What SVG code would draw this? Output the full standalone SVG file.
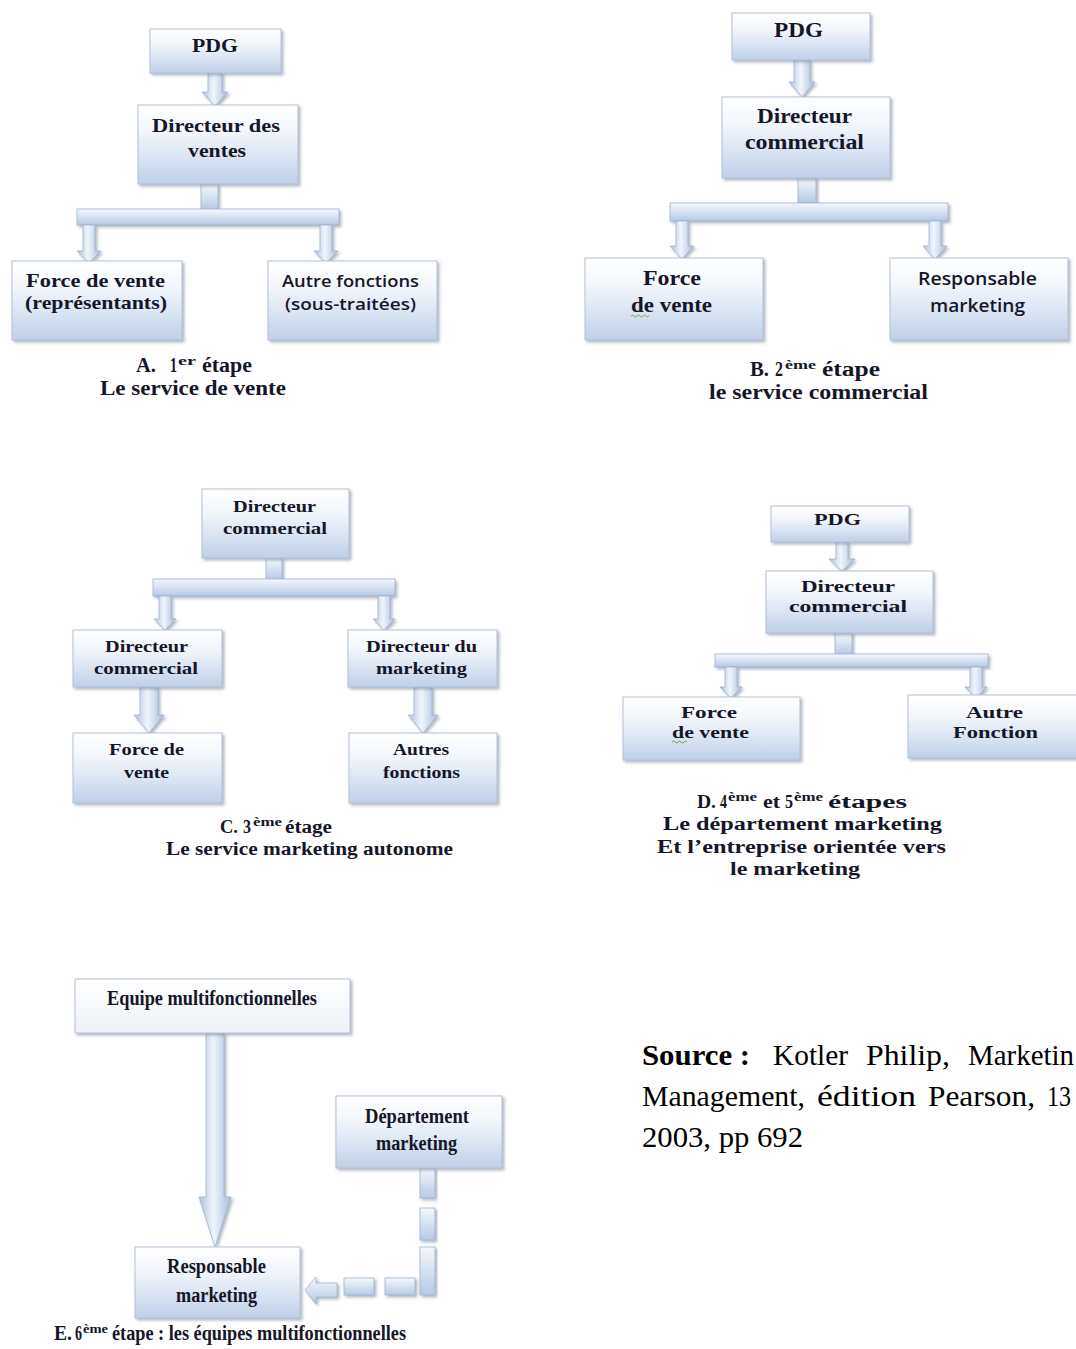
<svg xmlns="http://www.w3.org/2000/svg" width="1076" height="1349" viewBox="0 0 1076 1349">
  <defs>
    <linearGradient id="boxFill" x1="0" y1="0" x2="0" y2="1">
      <stop offset="0" stop-color="#ffffff"/>
      <stop offset="0.35" stop-color="#f2f6fb"/>
      <stop offset="1" stop-color="#c0d0e8"/>
    </linearGradient>
    <linearGradient id="boxFillPale" x1="0" y1="0" x2="0" y2="1">
      <stop offset="0" stop-color="#ffffff"/>
      <stop offset="1" stop-color="#eef2f8"/>
    </linearGradient>
    <linearGradient id="shaftFill" x1="0" y1="0" x2="1" y2="0">
      <stop offset="0" stop-color="#adc1de"/>
      <stop offset="0.45" stop-color="#f1f5fb"/>
      <stop offset="1" stop-color="#a8bcda"/>
    </linearGradient>
    <linearGradient id="barFill" x1="0" y1="0" x2="0" y2="1">
      <stop offset="0" stop-color="#f6f8fc"/>
      <stop offset="1" stop-color="#b6c9e4"/>
    </linearGradient>
    <filter id="shadow" x="-10%" y="-10%" width="130%" height="140%">
      <feDropShadow dx="2" dy="2" stdDeviation="1.4" flood-color="#6f7d93" flood-opacity="0.55"/>
    </filter>
  </defs>
  <style>
    .box { fill: url(#boxFill); stroke: #b3c1d6; stroke-width: 1; filter: url(#shadow); }
    .pale { fill: url(#boxFillPale); }
    .shaft { fill: url(#shaftFill); stroke: #9fb2cf; stroke-width: 0.8; filter: url(#shadow); }
    .bar { fill: url(#barFill); stroke: #9fb2cf; stroke-width: 0.8; filter: url(#shadow); }
    text { fill: #161629; }
    .s { font-family: "Liberation Serif", "Times New Roman", serif; font-weight: bold; }
    .n { font-family: "Open Sans", "Liberation Sans", Arial, sans-serif; font-weight: 600; }
    .a { font-size: 19px; }
    .b { font-size: 20px; }
    .c { font-size: 17px; }
    .d { font-size: 17px; }
    .e { font-size: 20px; }
    .na { font-size: 17px; }
    .nb { font-size: 18px; }
    .cap { font-size: 20px; }
    .capc { font-size: 18px; }
    .capd { font-size: 18px; }
    .sup { font-size: 12px; }
    .src { font-family: "Liberation Serif", "Times New Roman", serif; font-size: 30px; fill: #000; }
  </style>

  <rect width="1076" height="1349" fill="#ffffff"/>

  <!-- connectors: block arrows, stubs and distribution bars -->
  <g id="connectors">
    <!-- A -->
    <path class="shaft" d="M208,73 L222,73 L222,92 L228,92 L215,106 L202,92 L208,92 Z"/>
    <rect class="bar" x="201" y="184" width="17" height="26"/>
    <rect class="bar" x="77" y="209" width="262" height="16"/>
    <path class="shaft" d="M83,225 L95,225 L95,251 L101,251 L89,263 L77,251 L83,251 Z"/>
    <path class="shaft" d="M320,225 L332,225 L332,251 L338,251 L326,263 L314,251 L320,251 Z"/>
    <!-- B -->
    <path class="shaft" d="M794,60 L810,60 L810,82 L815,82 L802,97 L789,82 L794,82 Z"/>
    <rect class="bar" x="798" y="178" width="18" height="25"/>
    <rect class="bar" x="670" y="203" width="278" height="18"/>
    <path class="shaft" d="M676,221 L688,221 L688,246 L694,246 L682,259 L670,246 L676,246 Z"/>
    <path class="shaft" d="M929,221 L941,221 L941,246 L947,246 L935,259 L923,246 L929,246 Z"/>
    <!-- C -->
    <rect class="bar" x="266" y="558" width="16" height="22"/>
    <rect class="bar" x="153" y="579" width="242" height="17"/>
    <path class="shaft" d="M159,596 L171,596 L171,619 L176,619 L165,630 L154,619 L159,619 Z"/>
    <path class="shaft" d="M378,596 L390,596 L390,619 L395,619 L384,630 L373,619 L378,619 Z"/>
    <path class="shaft" d="M140,687 L158,687 L158,715 L164,715 L149,733 L134,715 L140,715 Z"/>
    <path class="shaft" d="M414,687 L432,687 L432,715 L438,715 L423,733 L408,715 L414,715 Z"/>
    <!-- D -->
    <path class="shaft" d="M836,542 L848,542 L848,559 L855,559 L842,571 L829,559 L836,559 Z"/>
    <rect class="bar" x="835" y="633" width="17" height="22"/>
    <rect class="bar" x="715" y="654" width="273" height="13"/>
    <path class="shaft" d="M725,667 L737,667 L737,687 L742,687 L731,698 L720,687 L725,687 Z"/>
    <path class="shaft" d="M970,667 L982,667 L982,687 L987,687 L976,698 L965,687 L970,687 Z"/>
    <!-- E -->
    <path class="shaft" d="M206,1033 L224,1033 L224,1197 L231,1197 L215,1247 L199,1197 L206,1197 Z"/>
    <rect class="bar" x="420" y="1168" width="15" height="30"/>
    <rect class="bar" x="420" y="1208" width="15" height="32"/>
    <rect class="bar" x="420" y="1247" width="15" height="48"/>
    <rect class="bar" x="385" y="1278" width="30" height="17"/>
    <rect class="bar" x="344" y="1278" width="30" height="17"/>
    <path class="bar" d="M337,1283 L337,1297 L316,1297 L316,1304 L305,1290 L316,1277 L316,1283 Z"/>
  </g>

  <!-- A. 1er étape -->
  <g id="a-pdg">
    <rect class="box" x="150" y="29" width="131" height="44"/>
    <text class="s a" x="192" y="52" textLength="46" lengthAdjust="spacingAndGlyphs">PDG</text>
  </g>
  <g id="a-directeur-ventes">
    <rect class="box" x="138" y="105" width="160" height="79"/>
    <text class="s a" x="152" y="132" textLength="128" lengthAdjust="spacingAndGlyphs">Directeur des</text>
    <text class="s a" x="188" y="157" textLength="58" lengthAdjust="spacingAndGlyphs">ventes</text>
  </g>
  <g id="a-force-vente">
    <rect class="box" x="12" y="261" width="170" height="79"/>
    <text class="s a" x="26" y="287" textLength="139" lengthAdjust="spacingAndGlyphs">Force de vente</text>
    <text class="s a" x="25" y="309" textLength="142" lengthAdjust="spacingAndGlyphs">(représentants)</text>
  </g>
  <g id="a-autres">
    <rect class="box" x="268" y="261" width="169" height="79"/>
    <text class="n na" x="282" y="287" textLength="137" lengthAdjust="spacingAndGlyphs">Autre fonctions</text>
    <text class="n na" x="285" y="310" textLength="131" lengthAdjust="spacingAndGlyphs">(sous-traitées)</text>
  </g>
  <g id="a-caption">
    <text class="s cap" x="136" y="372" textLength="20" lengthAdjust="spacingAndGlyphs">A.</text>
    <text class="s cap" x="170" y="372" textLength="7" lengthAdjust="spacingAndGlyphs">1</text>
    <text class="s sup" x="178" y="365" textLength="18" lengthAdjust="spacingAndGlyphs">er</text>
    <text class="s cap" x="202" y="372" textLength="50" lengthAdjust="spacingAndGlyphs">étape</text>
    <text class="s cap" x="100" y="395" textLength="186" lengthAdjust="spacingAndGlyphs">Le service de vente</text>
  </g>

  <!-- B. 2ème étape -->
  <g id="b-pdg">
    <rect class="box" x="732" y="13" width="138" height="47"/>
    <text class="s b" x="774" y="37" textLength="49" lengthAdjust="spacingAndGlyphs">PDG</text>
  </g>
  <g id="b-directeur-commercial">
    <rect class="box" x="722" y="97" width="168" height="81"/>
    <text class="s b" x="757" y="123" textLength="95" lengthAdjust="spacingAndGlyphs">Directeur</text>
    <text class="s b" x="745" y="149" textLength="119" lengthAdjust="spacingAndGlyphs">commercial</text>
  </g>
  <g id="b-force-vente">
    <rect class="box" x="585" y="258" width="178" height="82"/>
    <text class="s b" x="643" y="285" textLength="58" lengthAdjust="spacingAndGlyphs">Force</text>
    <text class="s b" x="631" y="312" textLength="81" lengthAdjust="spacingAndGlyphs">de vente</text>
    <path d="M631,316 q1.5,-2 3,0 t3,0 t3,0 t3,0 t3,0 t3,0" fill="none" stroke="#6aa84f" stroke-width="1"/>
  </g>
  <g id="b-responsable-marketing">
    <rect class="box" x="890" y="258" width="178" height="82"/>
    <text class="n nb" x="918" y="285" textLength="119" lengthAdjust="spacingAndGlyphs">Responsable</text>
    <text class="n nb" x="930" y="312" textLength="95" lengthAdjust="spacingAndGlyphs">marketing</text>
  </g>
  <g id="b-caption">
    <text class="s cap" x="750" y="376" textLength="19" lengthAdjust="spacingAndGlyphs">B.</text>
    <text class="s cap" x="775" y="376" textLength="8" lengthAdjust="spacingAndGlyphs">2</text>
    <text class="s sup" x="785" y="369" textLength="31" lengthAdjust="spacingAndGlyphs">ème</text>
    <text class="s cap" x="822" y="376" textLength="58" lengthAdjust="spacingAndGlyphs">étape</text>
    <text class="s cap" x="709" y="399" textLength="219" lengthAdjust="spacingAndGlyphs">le service commercial</text>
  </g>

  <!-- C. 3ème étage -->
  <g id="c-directeur-commercial">
    <rect class="box" x="202" y="489" width="147" height="69"/>
    <text class="s c" x="233" y="512" textLength="83" lengthAdjust="spacingAndGlyphs">Directeur</text>
    <text class="s c" x="223" y="534" textLength="104" lengthAdjust="spacingAndGlyphs">commercial</text>
  </g>
  <g id="c-directeur-commercial-2">
    <rect class="box" x="73" y="630" width="149" height="57"/>
    <text class="s c" x="105" y="652" textLength="83" lengthAdjust="spacingAndGlyphs">Directeur</text>
    <text class="s c" x="94" y="674" textLength="104" lengthAdjust="spacingAndGlyphs">commercial</text>
  </g>
  <g id="c-directeur-marketing">
    <rect class="box" x="348" y="630" width="149" height="57"/>
    <text class="s c" x="366" y="652" textLength="111" lengthAdjust="spacingAndGlyphs">Directeur du</text>
    <text class="s c" x="376" y="674" textLength="91" lengthAdjust="spacingAndGlyphs">marketing</text>
  </g>
  <g id="c-force-vente">
    <rect class="box" x="73" y="733" width="149" height="70"/>
    <text class="s c" x="109" y="755" textLength="75" lengthAdjust="spacingAndGlyphs">Force de</text>
    <text class="s c" x="124" y="778" textLength="45" lengthAdjust="spacingAndGlyphs">vente</text>
  </g>
  <g id="c-autres-fonctions">
    <rect class="box" x="349" y="733" width="148" height="70"/>
    <text class="s c" x="393" y="755" textLength="56" lengthAdjust="spacingAndGlyphs">Autres</text>
    <text class="s c" x="383" y="778" textLength="77" lengthAdjust="spacingAndGlyphs">fonctions</text>
  </g>
  <g id="c-caption">
    <text class="s capc" x="220" y="833" textLength="18" lengthAdjust="spacingAndGlyphs">C.</text>
    <text class="s capc" x="243" y="833" textLength="8" lengthAdjust="spacingAndGlyphs">3</text>
    <text class="s sup" x="253" y="826" textLength="29" lengthAdjust="spacingAndGlyphs">ème</text>
    <text class="s capc" x="285" y="833" textLength="47" lengthAdjust="spacingAndGlyphs">étage</text>
    <text class="s capc" x="166" y="855" textLength="287" lengthAdjust="spacingAndGlyphs">Le service marketing autonome</text>
  </g>

  <!-- D. 4ème et 5ème étapes -->
  <g id="d-pdg">
    <rect class="box" x="771" y="506" width="138" height="36"/>
    <text class="s d" x="814" y="525" textLength="47" lengthAdjust="spacingAndGlyphs">PDG</text>
  </g>
  <g id="d-directeur-commercial">
    <rect class="box" x="766" y="571" width="167" height="62"/>
    <text class="s d" x="801" y="592" textLength="94" lengthAdjust="spacingAndGlyphs">Directeur</text>
    <text class="s d" x="789" y="612" textLength="118" lengthAdjust="spacingAndGlyphs">commercial</text>
  </g>
  <g id="d-force-vente">
    <rect class="box" x="623" y="697" width="177" height="63"/>
    <text class="s d" x="681" y="718" textLength="56" lengthAdjust="spacingAndGlyphs">Force</text>
    <text class="s d" x="672" y="738" textLength="77" lengthAdjust="spacingAndGlyphs">de vente</text>
    <path d="M672,742 q1.5,-2 3,0 t3,0 t3,0 t3,0 t3,0" fill="none" stroke="#6aa84f" stroke-width="1"/>
  </g>
  <g id="d-autre-fonction">
    <rect class="box" x="908" y="695" width="175" height="63"/>
    <text class="s d" x="966" y="718" textLength="57" lengthAdjust="spacingAndGlyphs">Autre</text>
    <text class="s d" x="953" y="738" textLength="85" lengthAdjust="spacingAndGlyphs">Fonction</text>
  </g>
  <g id="d-caption">
    <text class="s capd" x="697" y="808" textLength="19" lengthAdjust="spacingAndGlyphs">D.</text>
    <text class="s capd" x="720" y="808" textLength="7" lengthAdjust="spacingAndGlyphs">4</text>
    <text class="s sup" x="728" y="801" textLength="29" lengthAdjust="spacingAndGlyphs">ème</text>
    <text class="s capd" x="763" y="808" textLength="17" lengthAdjust="spacingAndGlyphs">et</text>
    <text class="s capd" x="785" y="808" textLength="8" lengthAdjust="spacingAndGlyphs">5</text>
    <text class="s sup" x="794" y="801" textLength="29" lengthAdjust="spacingAndGlyphs">ème</text>
    <text class="s capd" x="828" y="808" textLength="79" lengthAdjust="spacingAndGlyphs">étapes</text>
    <text class="s capd" x="663" y="830" textLength="279" lengthAdjust="spacingAndGlyphs">Le département marketing</text>
    <text class="s capd" x="657" y="853" textLength="289" lengthAdjust="spacingAndGlyphs">Et l’entreprise orientée vers</text>
    <text class="s capd" x="730" y="875" textLength="130" lengthAdjust="spacingAndGlyphs">le marketing</text>
  </g>

  <!-- E. 6ème étape -->
  <g id="e-equipe">
    <rect class="box pale" x="75" y="979" width="275" height="54"/>
    <text class="s e" x="107" y="1005" textLength="210" lengthAdjust="spacingAndGlyphs">Equipe multifonctionnelles</text>
  </g>
  <g id="e-departement-marketing">
    <rect class="box" x="336" y="1096" width="166" height="72"/>
    <text class="s e" x="365" y="1123" textLength="104" lengthAdjust="spacingAndGlyphs">Département</text>
    <text class="s e" x="376" y="1150" textLength="81" lengthAdjust="spacingAndGlyphs">marketing</text>
  </g>
  <g id="e-responsable-marketing">
    <rect class="box" x="135" y="1247" width="165" height="71"/>
    <text class="s e" x="167" y="1273" textLength="99" lengthAdjust="spacingAndGlyphs">Responsable</text>
    <text class="s e" x="176" y="1302" textLength="81" lengthAdjust="spacingAndGlyphs">marketing</text>
  </g>
  <g id="e-caption">
    <text class="s e" x="54" y="1340" textLength="18" lengthAdjust="spacingAndGlyphs">E.</text>
    <text class="s e" x="75" y="1340" textLength="7" lengthAdjust="spacingAndGlyphs">6</text>
    <text class="s sup" x="83" y="1333" textLength="25" lengthAdjust="spacingAndGlyphs">ème</text>
    <text class="s e" x="112" y="1340" textLength="294" lengthAdjust="spacingAndGlyphs">étape : les équipes multifonctionnelles</text>
  </g>

  <!-- bibliographic source -->
  <g id="source">
    <text class="src" x="642" y="1065" font-weight="bold" textLength="108" lengthAdjust="spacingAndGlyphs">Source :</text>
    <text class="src" x="773" y="1065" textLength="75" lengthAdjust="spacingAndGlyphs">Kotler</text>
    <text class="src" x="866" y="1065" textLength="84" lengthAdjust="spacingAndGlyphs">Philip,</text>
    <text class="src" x="968" y="1065" textLength="106" lengthAdjust="spacingAndGlyphs">Marketin</text>
    <text class="src" x="642" y="1106" textLength="163" lengthAdjust="spacingAndGlyphs">Management,</text>
    <text class="src" x="817" y="1106" textLength="99" lengthAdjust="spacingAndGlyphs">édition</text>
    <text class="src" x="928" y="1106" textLength="107" lengthAdjust="spacingAndGlyphs">Pearson,</text>
    <text class="src" x="1047" y="1106" textLength="24" lengthAdjust="spacingAndGlyphs">13</text>
    <text class="src" x="642" y="1147" textLength="161" lengthAdjust="spacingAndGlyphs">2003, pp 692</text>
  </g>
</svg>
